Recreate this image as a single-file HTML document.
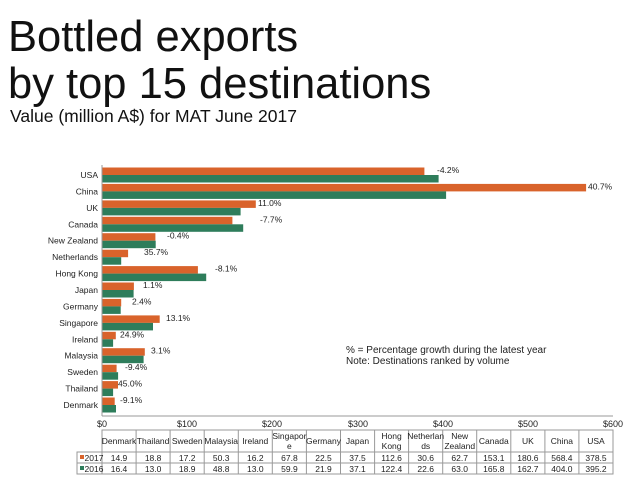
<!DOCTYPE html>
<html><head><meta charset="utf-8"><style>
body{margin:0;width:640px;height:492px;background:#fff;overflow:hidden;font-family:"Liberation Sans",sans-serif}
</style></head><body>
<svg width="640" height="492" xmlns="http://www.w3.org/2000/svg" font-family="Liberation Sans, sans-serif">
<text x="8" y="51" font-size="43.5" fill="#111">Bottled exports</text>
<text x="8" y="98" font-size="43.5" fill="#111">by top 15 destinations</text>
<text x="10" y="122" font-size="17.5" fill="#111">Value (million A$) for MAT June 2017</text>

<g font-size="8.5" text-anchor="end" fill="#222">
<text x="98" y="178">USA</text><text x="98" y="194.4">China</text><text x="98" y="210.9">UK</text><text x="98" y="227.3">Canada</text><text x="98" y="243.7">New Zealand</text><text x="98" y="260.2">Netherlands</text><text x="98" y="276.6">Hong Kong</text><text x="98" y="293">Japan</text><text x="98" y="309.4">Germany</text><text x="98" y="325.9">Singapore</text><text x="98" y="342.3">Ireland</text><text x="98" y="358.7">Malaysia</text><text x="98" y="375.2">Sweden</text><text x="98" y="391.6">Thailand</text><text x="98" y="408">Denmark</text>
</g>
<g fill="#d9632b">
<rect x="102" y="167.5" width="322.4" height="7.5"/><rect x="102" y="183.9" width="484.1" height="7.5"/><rect x="102" y="200.4" width="153.8" height="7.5"/><rect x="102" y="216.8" width="130.4" height="7.5"/><rect x="102" y="233.2" width="53.4" height="7.5"/><rect x="102" y="249.7" width="26.1" height="7.5"/><rect x="102" y="266.1" width="95.9" height="7.5"/><rect x="102" y="282.5" width="31.9" height="7.5"/><rect x="102" y="298.9" width="19.2" height="7.5"/><rect x="102" y="315.4" width="57.7" height="7.5"/><rect x="102" y="331.8" width="13.8" height="7.5"/><rect x="102" y="348.2" width="42.8" height="7.5"/><rect x="102" y="364.7" width="14.6" height="7.5"/><rect x="102" y="381.1" width="16" height="7.5"/><rect x="102" y="397.5" width="12.7" height="7.5"/>
</g>
<g fill="#2e7d5b">
<rect x="102" y="175" width="336.6" height="7.5"/><rect x="102" y="191.4" width="344.1" height="7.5"/><rect x="102" y="207.9" width="138.6" height="7.5"/><rect x="102" y="224.3" width="141.2" height="7.5"/><rect x="102" y="240.7" width="53.7" height="7.5"/><rect x="102" y="257.2" width="19.2" height="7.5"/><rect x="102" y="273.6" width="104.2" height="7.5"/><rect x="102" y="290" width="31.6" height="7.5"/><rect x="102" y="306.4" width="18.7" height="7.5"/><rect x="102" y="322.9" width="51" height="7.5"/><rect x="102" y="339.3" width="11.1" height="7.5"/><rect x="102" y="355.7" width="41.6" height="7.5"/><rect x="102" y="372.2" width="16.1" height="7.5"/><rect x="102" y="388.6" width="11.1" height="7.5"/><rect x="102" y="405" width="14" height="7.5"/>
</g>
<g font-size="8.5" fill="#222">
<text x="437" y="173">-4.2%</text><text x="588" y="189.4">40.7%</text><text x="258" y="205.9">11.0%</text><text x="260" y="222.3">-7.7%</text><text x="167" y="238.7">-0.4%</text><text x="144" y="255.2">35.7%</text><text x="215" y="271.6">-8.1%</text><text x="143" y="288">1.1%</text><text x="132" y="304.4">2.4%</text><text x="166" y="320.9">13.1%</text><text x="120" y="337.3">24.9%</text><text x="151" y="353.7">3.1%</text><text x="125" y="370.2">-9.4%</text><text x="118" y="386.6">45.0%</text><text x="120" y="403">-9.1%</text>
</g>
<line x1="102" y1="165" x2="102" y2="416" stroke="#999"/>
<line x1="102" y1="416" x2="613" y2="416" stroke="#999"/>
<g font-size="9" fill="#222" text-anchor="middle">
<text x="102" y="427">$0</text><text x="187" y="427">$100</text><text x="272" y="427">$200</text><text x="358" y="427">$300</text><text x="443" y="427">$400</text><text x="528" y="427">$500</text><text x="613" y="427">$600</text>
</g>
<text x="346" y="353" font-size="10" fill="#222">% = Percentage growth during the latest year</text>
<text x="346" y="364" font-size="10" fill="#222">Note: Destinations ranked by volume</text>

<g stroke="#999" fill="none">
<rect x="102" y="430" width="511" height="44"/>
<rect x="77" y="452" width="25" height="22"/>
<line x1="77" y1="463" x2="613" y2="463"/><line x1="102" y1="452" x2="613" y2="452"/>
<line x1="136.1" y1="430" x2="136.1" y2="474"/><line x1="170.1" y1="430" x2="170.1" y2="474"/><line x1="204.2" y1="430" x2="204.2" y2="474"/><line x1="238.3" y1="430" x2="238.3" y2="474"/><line x1="272.3" y1="430" x2="272.3" y2="474"/><line x1="306.4" y1="430" x2="306.4" y2="474"/><line x1="340.5" y1="430" x2="340.5" y2="474"/><line x1="374.6" y1="430" x2="374.6" y2="474"/><line x1="408.6" y1="430" x2="408.6" y2="474"/><line x1="442.7" y1="430" x2="442.7" y2="474"/><line x1="476.7" y1="430" x2="476.7" y2="474"/><line x1="510.8" y1="430" x2="510.8" y2="474"/><line x1="544.9" y1="430" x2="544.9" y2="474"/><line x1="578.9" y1="430" x2="578.9" y2="474"/>
</g>
<rect x="80" y="455" width="4" height="4" fill="#d9632b"/><rect x="80" y="466" width="4" height="4" fill="#2e7d5b"/>
<g font-size="8.5" fill="#222" text-anchor="middle">
<text x="94" y="461">2017</text><text x="94" y="472">2016</text>
<text x="119" y="444">Denmark</text><text x="153.1" y="444">Thailand</text><text x="187.2" y="444">Sweden</text><text x="221.2" y="444">Malaysia</text><text x="255.3" y="444">Ireland</text><text x="289.4" y="439">Singapor</text><text x="289.4" y="449">e</text><text x="323.5" y="444">Germany</text><text x="357.5" y="444">Japan</text><text x="391.6" y="439">Hong</text><text x="391.6" y="449">Kong</text><text x="425.7" y="439">Netherlan</text><text x="425.7" y="449">ds</text><text x="459.7" y="439">New</text><text x="459.7" y="449">Zealand</text><text x="493.8" y="444">Canada</text><text x="527.9" y="444">UK</text><text x="561.9" y="444">China</text><text x="596" y="444">USA</text>
<text x="119" y="461">14.9</text><text x="153.1" y="461">18.8</text><text x="187.2" y="461">17.2</text><text x="221.2" y="461">50.3</text><text x="255.3" y="461">16.2</text><text x="289.4" y="461">67.8</text><text x="323.5" y="461">22.5</text><text x="357.5" y="461">37.5</text><text x="391.6" y="461">112.6</text><text x="425.7" y="461">30.6</text><text x="459.7" y="461">62.7</text><text x="493.8" y="461">153.1</text><text x="527.9" y="461">180.6</text><text x="561.9" y="461">568.4</text><text x="596" y="461">378.5</text>
<text x="119" y="472">16.4</text><text x="153.1" y="472">13.0</text><text x="187.2" y="472">18.9</text><text x="221.2" y="472">48.8</text><text x="255.3" y="472">13.0</text><text x="289.4" y="472">59.9</text><text x="323.5" y="472">21.9</text><text x="357.5" y="472">37.1</text><text x="391.6" y="472">122.4</text><text x="425.7" y="472">22.6</text><text x="459.7" y="472">63.0</text><text x="493.8" y="472">165.8</text><text x="527.9" y="472">162.7</text><text x="561.9" y="472">404.0</text><text x="596" y="472">395.2</text>
</g>
</svg>
</body></html>
